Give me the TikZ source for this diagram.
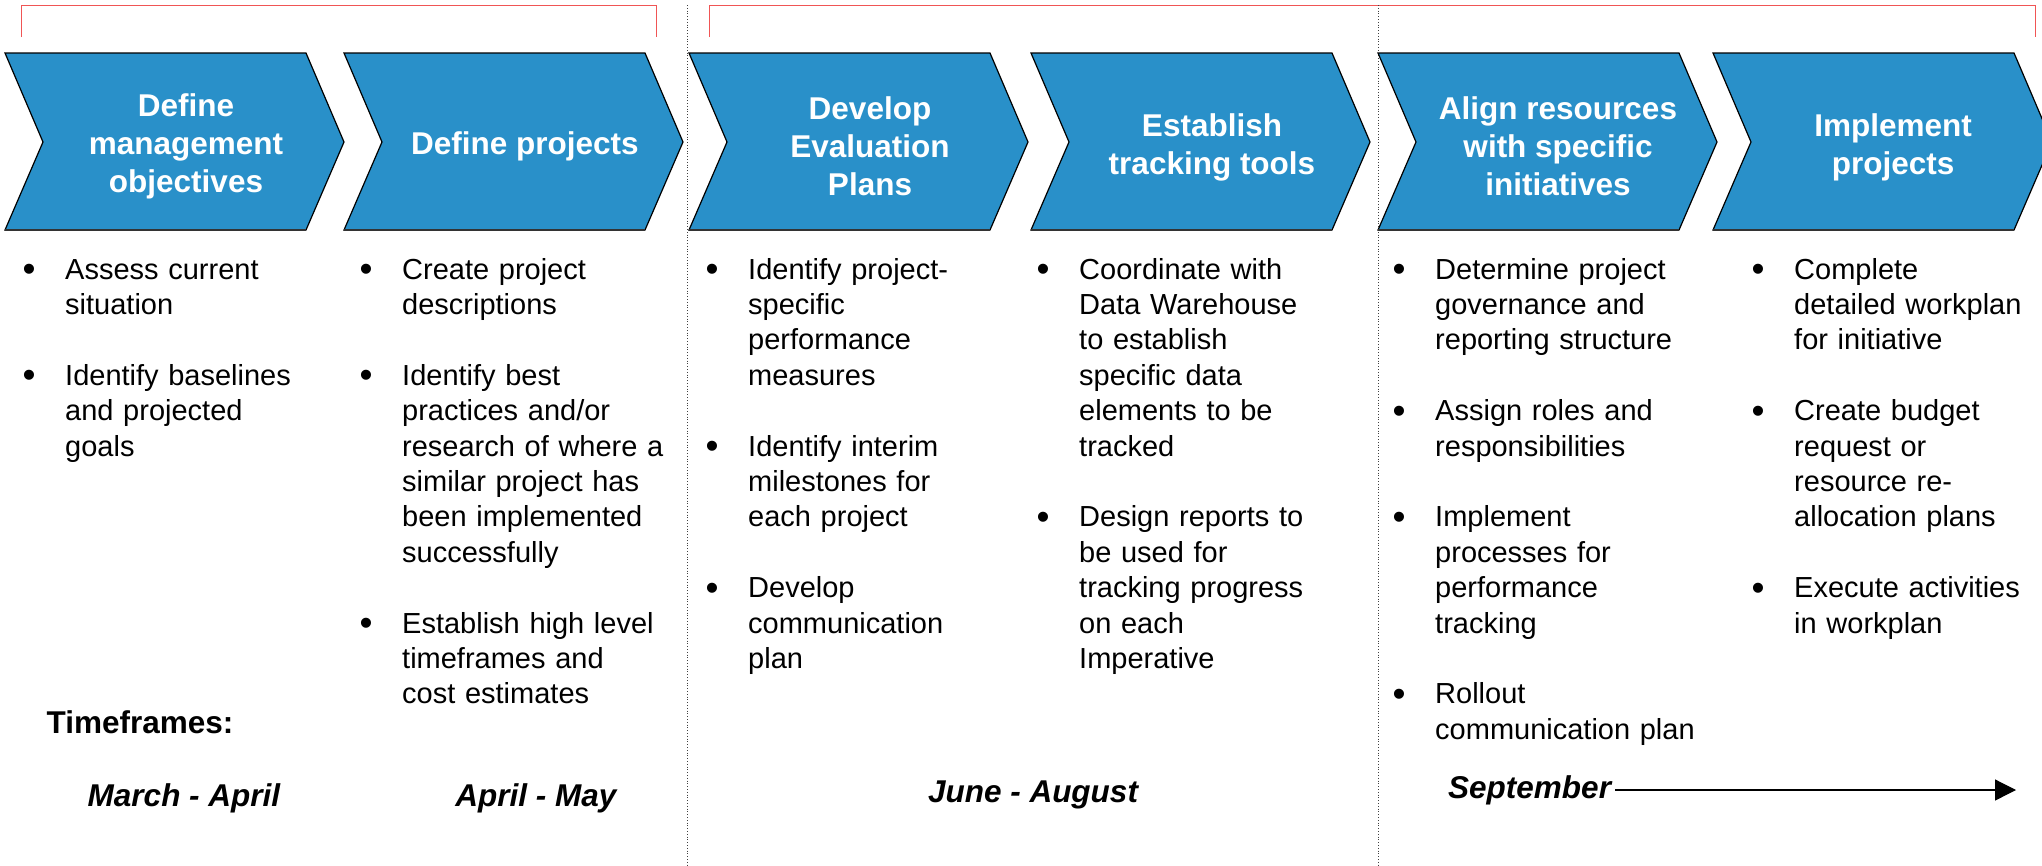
\documentclass[tikz,border=0pt]{standalone}
\usepackage{fontspec}
\setmainfont{Liberation Sans}
\usetikzlibrary{arrows.meta}
\definecolor{chevblue}{RGB}{41,144,201}
\definecolor{bracketred}{RGB}{240,85,85}
\tikzset{
  chev/.style={fill=chevblue, draw=black, line width=1.2pt, line join=miter},
  ttl/.style={text=white, font=\fontsize{31.5}{38}\selectfont\bfseries, align=center, inner sep=0pt},
  body/.style={font=\fontsize{29}{35.4}\selectfont, align=left, anchor=base west, inner sep=0pt, text width=330pt},
  bul/.style={font=\fontsize{37}{37}\selectfont, anchor=base, inner sep=0pt},
  bracket/.style={draw=bracketred, line width=1pt},
  divider/.style={draw=black!75, dotted, line width=0.8pt},
  tf/.style={font=\fontsize{31.5}{38}\selectfont\bfseries\itshape, inner sep=0pt},
  tfhead/.style={font=\fontsize{31.5}{38}\selectfont\bfseries, inner sep=0pt},
}
\newcommand\chevshape[1]{\filldraw[chev] (#1,53) -- ++(301,0) -- ++(38,89) -- ++(-38,88) -- ++(-301,0) -- ++(38,-88) -- cycle;
  \draw[line width=2pt, black!80] (#1,230) -- ++(301,0);}
\newcommand\colitem[4]{\node[bul] (#1b) at (#2-36,#3+2.5) {\textbullet}; \node[body] (#1) at (#2,#3) {#4};}
\begin{document}
\begin{tikzpicture}[x=1pt,y=-1pt]
\useasboundingbox[fill=white] (0,0) rectangle (2042,865);
% brackets
\draw[bracket] (21,37) -- (21,5) -- (656,5) -- (656,37);
\draw[bracket] (709,37) -- (709,5) -- (2035,5) -- (2035,37);
% dividers
\draw[divider] (687,5) -- (687,865);
\draw[divider] (1378,5) -- (1378,865);
% chevrons
\chevshape{5}
\chevshape{344}
\chevshape{689}
\chevshape{1031}
\chevshape{1378}
\chevshape{1713}
\node[ttl] (t1) at (186,146) {Define\\management\\objectives};
\node[ttl] (t2) at (525,146) {Define projects};
\node[ttl] (t3) at (870,146) {Develop\\Evaluation\\Plans};
\node[ttl] (t4) at (1212,147) {Establish\\tracking tools};
\node[ttl] (t5) at (1558,146) {Align resources\\with specific\\initiatives};
\node[ttl] (t6) at (1893,147) {Implement\\projects};
% column 1
\colitem{a1}{65}{279}{Assess current\\situation}
\colitem{a2}{65}{385.2}{Identify baselines\\and projected\\goals}
% column 2
\colitem{b1}{402}{279}{Create project\\descriptions}
\colitem{b2}{402}{385.2}{Identify best\\practices and/or\\research of where a\\similar project has\\been implemented\\successfully}
\colitem{b3}{402}{633}{Establish high level\\timeframes and\\cost estimates}
% column 3
\colitem{c1}{748}{279}{Identify project-\\specific\\performance\\measures}
\colitem{c2}{748}{456}{Identify interim\\milestones for\\each project}
\colitem{c3}{748}{597.6}{Develop\\communication\\plan}
% column 4
\colitem{d1}{1079}{279}{Coordinate with\\Data Warehouse\\to establish\\specific data\\elements to be\\tracked}
\colitem{d2}{1079}{526.8}{Design reports to\\be used for\\tracking progress\\on each\\Imperative}
% column 5
\colitem{e1}{1435}{279}{Determine project\\governance and\\reporting structure}
\colitem{e2}{1435}{420.6}{Assign roles and\\responsibilities}
\colitem{e3}{1435}{526.8}{Implement\\processes for\\performance\\tracking}
\colitem{e4}{1435}{703.8}{Rollout\\communication plan}
% column 6
\colitem{f1}{1794}{279}{Complete\\detailed workplan\\for initiative}
\colitem{f2}{1794}{420.6}{Create budget\\request or\\resource re-\\allocation plans}
\colitem{f3}{1794}{597.6}{Execute activities\\in workplan}
% timeframes
\node[tfhead] (tfh) at (140,722) {Timeframes:};
\node[tf] (tf1) at (184,798) {March - April};
\node[tf] (tf2) at (536,798) {April - May};
\node[tf] (tf3) at (1033,795) {June - August};
\node[tf, anchor=west] (tf4) at (1448,790) {September};
\coordinate (arrowend) at (2016,789);
\draw[line width=1.2pt, -{Triangle[length=21pt,width=21pt]}] ([xshift=4pt]tf4.east) -- (tf4.east -| arrowend);
\end{tikzpicture}
\end{document}
